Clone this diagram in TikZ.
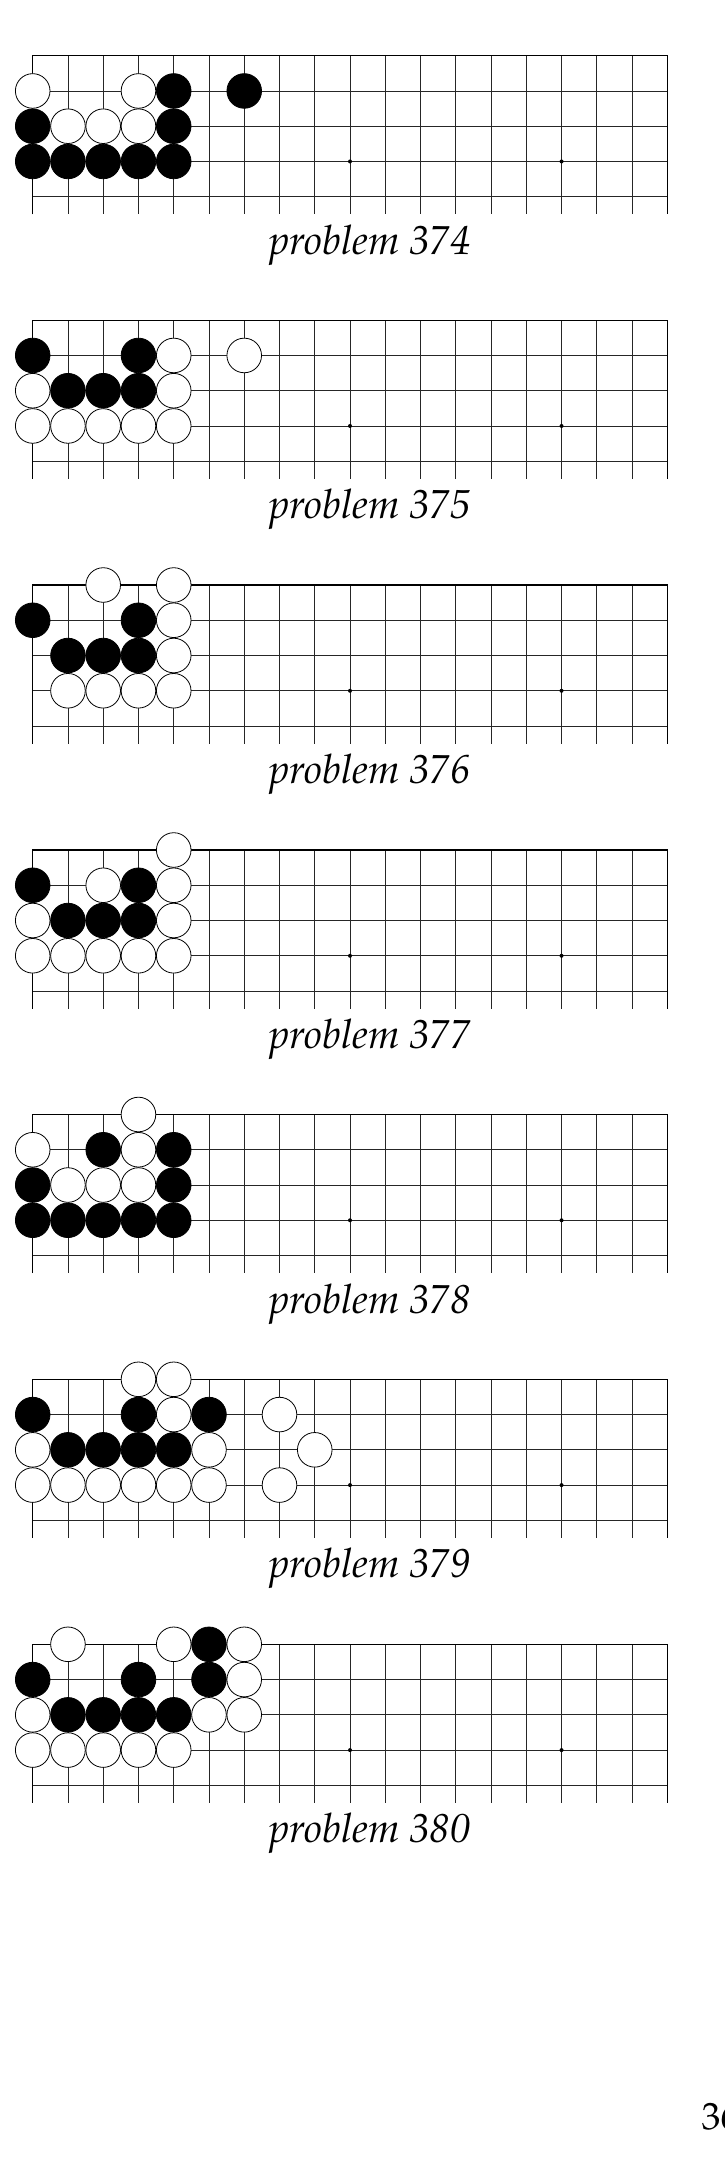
\documentclass[tikz,border=0pt]{standalone}
\usepackage[T1]{fontenc}
\usepackage{mathpazo}
\tikzset{
  gridline/.style={line width=0.8pt, black!85},
  edgeline/.style={line width=1.4pt, black},
  stonebase/.style={circle, draw=black, line width=0.8pt, minimum size=34.6pt, inner sep=0pt},
  bstone/.style={stonebase, fill=black},
  wstone/.style={stonebase, fill=white},
  starpt/.style={circle, fill=black, minimum size=4pt, inner sep=0pt},
  caption/.style={font=\fontsize{40.5}{44}\selectfont\itshape, anchor=base, inner sep=0pt},
  pagenum/.style={font=\fontsize{38}{42}\selectfont, anchor=base west, inner sep=0pt}
}
\newcommand\goboard[5]{%
  \begin{scope}[shift={(0,#2)}]
    \foreach \i in {1,...,17} {
      \draw[gridline] (32.7+\i*35.256,0) -- (32.7+\i*35.256,158.65);
    }
    \foreach \j in {1,...,4} {
      \draw[gridline] (32.7,\j*35.256) -- (667.3,\j*35.256);
    }
    \draw[edgeline] (32.7,158.65) -- (32.7,0) -- (667.3,0) -- (667.3,158.65);
    \foreach \c in {3,9,15} {
      \node[starpt] (st#1-\c) at (32.7+\c*35.256,3*35.256) {};
    }
    \foreach \c/\r in {#4} {
      \node[bstone] (b#1-\c-\r) at (32.7+\c*35.256,\r*35.256) {};
    }
    \foreach \c/\r in {#5} {
      \node[wstone] (w#1-\c-\r) at (32.7+\c*35.256,\r*35.256) {};
    }
    \node[caption] (cap#1) at (369.7,198.6) {problem #3};
  \end{scope}%
}
\begin{document}
\begin{tikzpicture}[x=1pt,y=-1pt]
\clip (0,0) rectangle (724,2181);
\fill[white] (0,0) rectangle (724,2181);
\goboard{a}{55.7}{374}{4/1,6/1,0/2,4/2,0/3,1/3,2/3,3/3,4/3}{0/1,3/1,1/2,2/2,3/2}
\goboard{b}{320.2}{375}{0/1,3/1,1/2,2/2,3/2}{4/1,6/1,0/2,4/2,0/3,1/3,2/3,3/3,4/3}
\goboard{c}{585}{376}{0/1,3/1,1/2,2/2,3/2}{2/0,4/0,4/1,4/2,1/3,2/3,3/3,4/3}
\goboard{d}{850}{377}{0/1,3/1,1/2,2/2,3/2}{4/0,2/1,4/1,0/2,4/2,0/3,1/3,2/3,3/3,4/3}
\goboard{e}{1114.5}{378}{2/1,4/1,0/2,4/2,0/3,1/3,2/3,3/3,4/3}{3/0,0/1,3/1,1/2,2/2,3/2}
\goboard{f}{1379.3}{379}{0/1,3/1,5/1,1/2,2/2,3/2,4/2}{3/0,4/0,4/1,7/1,0/2,5/2,8/2,0/3,1/3,2/3,3/3,4/3,5/3,7/3}
\goboard{g}{1644.3}{380}{5/0,0/1,3/1,5/1,1/2,2/2,3/2,4/2}{1/0,4/0,6/0,6/1,0/2,5/2,6/2,0/3,1/3,2/3,3/3,4/3}
\node[pagenum] (page) at (701.5,2129.3) {36};
\end{tikzpicture}
\end{document}
